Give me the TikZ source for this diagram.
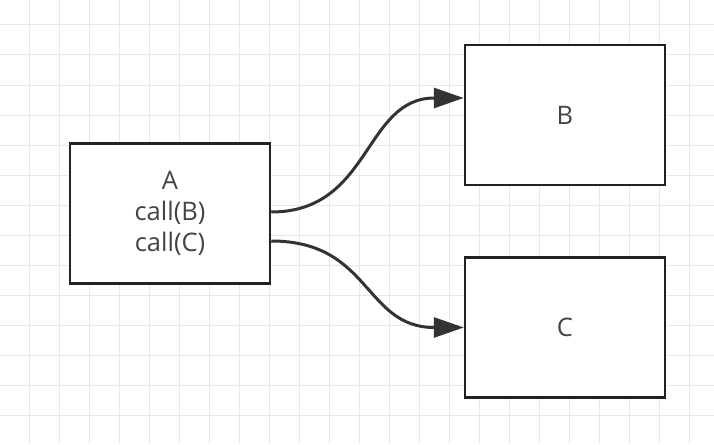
\documentclass[tikz,border=0pt]{standalone}
\usepackage{fontspec}
\setmainfont{Open Sans}
\usetikzlibrary{arrows.meta}
\definecolor{gridc}{HTML}{E8E8E8}
\definecolor{ink}{HTML}{222222}
\definecolor{txt}{HTML}{333333}
\definecolor{lbl}{HTML}{444444}
\tikzset{
  boxnode/.style={draw=ink, line width=2.5pt, fill=white, minimum width=200pt, minimum height=140pt, inner sep=0pt, text=lbl, font=\fontsize{25.5}{31}\selectfont, align=center},
  conn/.style={draw=txt, line width=3pt, -{Triangle[length=30pt,width=20pt]}}
}
\begin{document}
\begin{tikzpicture}[x=1pt,y=-1pt]
\useasboundingbox (0,0) rectangle (714,444);
\fill[white] (0,0) rectangle (714,444);
\foreach \i in {0,...,23} {\draw[gridc, line width=1pt] ({29.3+30*\i},0) -- ({29.3+30*\i},444);}
\foreach \j in {0,...,14} {\draw[gridc, line width=1pt] (0,{25+30*\j}) -- (714,{25+30*\j});}
\node[boxnode] (A) at (170,213.5) {A\\call(B)\\call(C)};
\node[boxnode] (B) at (565,115) {B};
\node[boxnode] (C) at (565,327.5) {C};
\coordinate (a1) at ([yshift=1.5pt]A.east);
\coordinate (a2) at ([yshift=-27.5pt]A.east);
\coordinate (b1) at ([yshift=17pt]B.west);
\draw[conn] (a1) .. controls +(100,0) and +(-100,0) .. (b1);
\draw[conn] (a2) .. controls +(100,0) and +(-100,0) .. (C.west);
\end{tikzpicture}
\end{document}
